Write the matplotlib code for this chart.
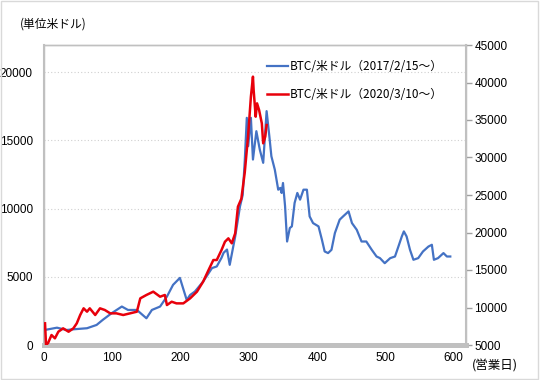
import matplotlib
matplotlib.use("Agg")
import matplotlib.pyplot as plt
from matplotlib.patches import Rectangle

plt.rcParams['font.family'] = ['Liberation Sans', 'Noto Sans CJK JP', 'DejaVu Sans']

# ---- data ----
blue_label = "BTC/米ドル（2017/2/15～）"
red_label = "BTC/米ドル（2020/3/10～）"

blue_days = [1, 19, 33, 43, 63, 77, 86, 99, 114, 123, 136, 150, 158, 170, 180, 189, 199,
             209, 214, 221, 233, 246, 253, 260, 263, 268, 272, 280, 287, 291, 294, 297,
             299, 303, 306, 311, 316, 321, 326, 330, 333, 338, 343, 346, 348, 350, 353,
             356, 360, 363, 367, 371, 375, 380, 385, 389, 394, 402, 407, 411, 416, 421,
             426, 433, 438, 446, 451, 458, 465, 472, 480, 487, 492, 499, 507, 514, 519,
             524, 527, 531, 536, 541, 548, 555, 563, 568, 571, 577, 585, 590, 595]
blue_usd = [1100, 1270, 1100, 1150, 1230, 1470, 1840, 2330, 2820, 2570, 2570, 1960, 2570,
            2820, 3550, 4410, 4920, 3300, 3670, 3920, 4650, 5640, 5760, 6400, 6760, 7000,
            5880, 7960, 10160, 11000, 13500, 16660, 14580, 16660, 13600, 15680, 14330,
            13360, 17150, 15310, 13840, 12860, 11390, 11520, 11150, 11880, 10200, 7590,
            8580, 8700, 10420, 11150, 10660, 11390, 11390, 9430, 8940, 8700, 7720, 6860,
            6740, 6980, 8210, 9190, 9430, 9800, 8940, 8450, 7590, 7590, 6980, 6490, 6370,
            6000, 6370, 6490, 7220, 7960, 8330, 7960, 6980, 6250, 6370, 6860, 7220, 7350,
            6250, 6370, 6740, 6490, 6490]

red_days = [1.5, 3, 6, 11, 16, 21, 28, 36, 43, 48, 53, 58, 63, 67, 75, 82, 89, 97, 106,
            116, 126, 136, 141, 150, 160, 170, 177, 180, 187, 194, 204, 214, 224, 233,
            241, 248, 253, 260, 265, 270, 275, 280, 284, 289, 294, 299, 303, 306, 307,
            310, 312, 315, 319, 321, 324, 326]
red_usd = [7890, 5000, 5270, 6330, 5890, 6770, 7220, 6770, 7220, 7890, 9000, 9890, 9440,
           9890, 9000, 9890, 9670, 9220, 9220, 9000, 9220, 9440, 11220, 11670, 12110,
           11440, 11670, 10330, 10770, 10550, 10550, 11220, 12110, 13440, 15000, 16330,
           16330, 17670, 18770, 19220, 18560, 19890, 23440, 24500, 28000, 33000, 38110,
           40780, 39000, 35440, 37220, 36330, 34550, 31890, 32780, 34330]

x_ticks = [0, 100, 200, 300, 400, 500, 600]
left_ticks = [0, 5000, 10000, 15000, 20000]
right_ticks = [5000, 10000, 15000, 20000, 25000, 30000, 35000, 40000, 45000]

# ---- figure ----
W, H = 540, 380
fig = plt.figure(figsize=(W / 100, H / 100), dpi=100)
fig.patches.append(Rectangle((0.002, 0.003), 0.995, 0.994, transform=fig.transFigure,
                             fill=False, edgecolor='#d9d9d9', linewidth=1))

L, R, T, B = 44, 466, 45, 345
ax = fig.add_axes([L / W, 1 - B / H, (R - L) / W, (B - T) / H])
ax2 = ax.twinx()

blue_c = '#4472c4'
red_c = '#e8000b'
lb, = ax.plot(blue_days, blue_usd, color=blue_c, lw=1.6, zorder=3)
lr, = ax2.plot(red_days, red_usd, color=red_c, lw=1.8, zorder=3)

ax.set_xlim(0, 618)
ax.set_ylim(0, 22000)
ax2.set_ylim(5000, 45000)
ax.set_xticks(x_ticks)
ax.set_yticks(left_ticks)
ax2.set_yticks(right_ticks)

ax.grid(axis='y', color='#d0d0d0', linestyle=(0, (1, 2)), linewidth=0.8)
ax.set_axisbelow(True)

for a in (ax, ax2):
    for s in a.spines.values():
        s.set_color('#c0c0c0')
        s.set_linewidth(1.0)
ax.spines['bottom'].set_linewidth(3.5)
ax2.spines['bottom'].set_linewidth(3.5)
ax.spines['left'].set_linewidth(1.5)
ax2.spines['right'].set_linewidth(1.5)

ax.tick_params(axis='x', length=0, pad=5, labelsize=8.5, colors='black')
ax.tick_params(axis='y', length=0, pad=8, labelsize=8.5, colors='black')
ax2.tick_params(axis='y', length=4, width=1, color='#a0a0a0', pad=2, labelsize=8.5,
                labelcolor='black')

fig.text(20 / W, 1 - 24 / H, "(単位米ドル)", fontsize=8.5, va='center', ha='left',
         family=['Noto Sans CJK JP', 'DejaVu Sans'])
fig.text(472 / W, 1 - 366 / H, "(営業日)", fontsize=9, va='center', ha='left',
         family=['Noto Sans CJK JP', 'DejaVu Sans'])

leg = ax2.legend([lb, lr], [blue_label, red_label], loc='upper left',
                 bbox_to_anchor=(267 / W, 1 - 60 / H), bbox_transform=fig.transFigure,
                 frameon=False, handlelength=1.8, handletextpad=0.1, labelspacing=1.3,
                 borderpad=0, borderaxespad=0,
                 prop={'family': ['Noto Sans CJK JP', 'DejaVu Sans'], 'size': 8.5})

fig.savefig("out.png", dpi=100)
